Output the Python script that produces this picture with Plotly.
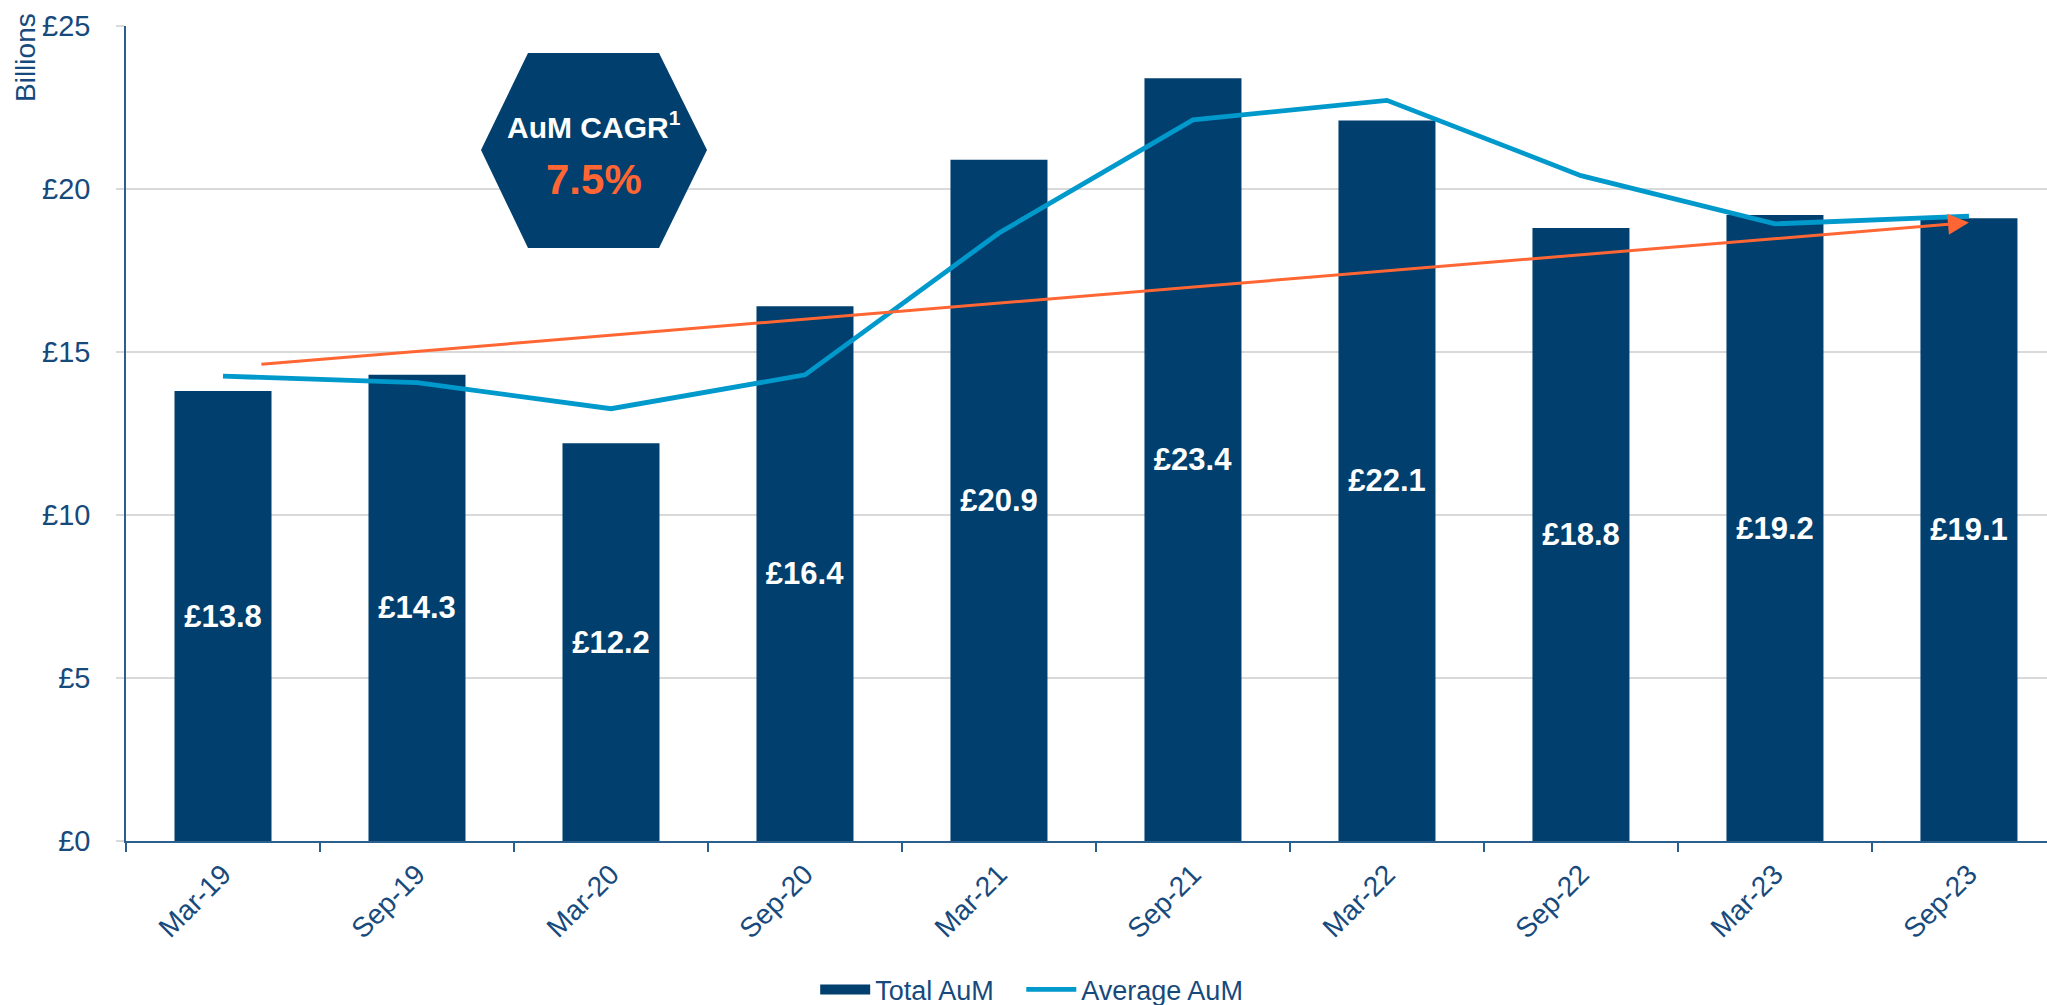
import plotly.graph_objects as go

# ---- data ----
periods = ["Mar-19", "Sep-19", "Mar-20", "Sep-20", "Mar-21",
           "Sep-21", "Mar-22", "Sep-22", "Mar-23", "Sep-23"]
total_aum = [13.8, 14.3, 12.2, 16.4, 20.9, 23.4, 22.1, 18.8, 19.2, 19.1]
average_aum = [14.26, 14.06, 13.26, 14.30, 18.65, 22.12, 22.72, 20.41, 18.93, 19.17]
trend_x = [0.19, 9.0]        # category-index positions of trend arrow
trend_y = [14.62, 18.97]     # trend values (£bn)
y_ticks = [0, 5, 10, 15, 20, 25]
y_tick_labels = ["£0", "£5", "£10", "£15", "£20", "£25"]
cagr_title = "<b>AuM CAGR<sup>1</sup></b>"
cagr_value = "<b>7.5%</b>"
legend_names = ["Total AuM", "Average AuM"]

# ---- styling ----
W, H = 2047, 1005
L, R, T, B = 126, 0, 26, 164
PW, PH = W - L - R, H - T - B
NAVY = "#003F6E"
CYAN = "#0099CC"
ORANGE = "#FF6633"
TXT = "#174A7C"
FONT = "Arial, Liberation Sans, sans-serif"
NBSP = "\u00a0"


def px(x):
    return (x - L) / PW


def py(y):
    return (H - B - y) / PH


fig = go.Figure()
fig.add_trace(go.Bar(
    x=periods, y=total_aum, name=legend_names[0], showlegend=False,
    marker=dict(color=NAVY, line=dict(width=0)),
    texttemplate="<b>£%{y:.1f}</b>", textposition="inside", insidetextanchor="middle",
    textangle=0,
    textfont=dict(color="white", size=31, family=FONT),
))
# legend entry for bars (wide swatch like the reference)
fig.add_trace(go.Scatter(
    x=[None], y=[None], name=legend_names[0] + NBSP * 3, mode="lines",
    line=dict(color=NAVY, width=14),
))
fig.add_trace(go.Scatter(
    x=periods, y=average_aum, name=legend_names[1], mode="lines",
    line=dict(color=CYAN, width=4.8),
))

# trend arrow
fig.add_annotation(
    x=trend_x[1], y=trend_y[1], ax=trend_x[0], ay=trend_y[0],
    xref="x", yref="y", axref="x", ayref="y",
    showarrow=True, arrowhead=2, arrowsize=1.4, arrowwidth=3,
    arrowcolor=ORANGE, text="",
)

# hexagon
hx = [481, 528, 659, 707, 659, 528]
hy = [150, 53, 53, 150, 248, 248]
path = "M " + " L ".join(f"{px(a):.5f},{py(b):.5f}" for a, b in zip(hx, hy)) + " Z"
fig.add_shape(type="path", path=path, xref="paper", yref="paper",
              fillcolor=NAVY, line=dict(width=0), layer="above")
fig.add_annotation(x=px(594), y=py(125), xref="paper", yref="paper",
                   text=cagr_title, showarrow=False,
                   xanchor="center", yanchor="middle",
                   font=dict(color="white", size=30, family=FONT))
fig.add_annotation(x=px(594), y=py(179), xref="paper", yref="paper",
                   text=cagr_value, showarrow=False,
                   xanchor="center", yanchor="middle",
                   font=dict(color=ORANGE, size=42, family=FONT))

# Billions label
fig.add_annotation(x=px(25), y=py(58), xref="paper", yref="paper",
                   text="Billions", textangle=-90, showarrow=False,
                   xanchor="center", yanchor="middle",
                   font=dict(color=TXT, size=28, family=FONT))

fig.update_layout(
    width=W, height=H,
    margin=dict(l=L, r=R, t=T, b=B, pad=0, autoexpand=False),
    paper_bgcolor="white", plot_bgcolor="white",
    bargap=0.5,
    font=dict(family=FONT, color=TXT),
    showlegend=True,
    legend=dict(orientation="h", xref="container", yref="container",
                x=0.504, xanchor="center", y=0.015, yanchor="middle",
                font=dict(size=27, color=TXT, family=FONT),
                itemwidth=50,
                traceorder="normal", bgcolor="rgba(0,0,0,0)"),
)
fig.update_xaxes(
    type="category", range=[-0.5, 9.5 - (2066 - 2047) / 194.5],
    showline=True, linecolor="#2B5F8E", linewidth=1.5,
    ticks="outside", tickson="boundaries", ticklen=9, tickcolor="#2B5F8E",
    tickwidth=1.5, tickangle=-45, ticklabelstandoff=4,
    tickfont=dict(size=28, color=TXT, family=FONT),
    showgrid=False,
)
fig.update_yaxes(
    range=[0, 25], tickvals=y_ticks, ticktext=y_tick_labels,
    showline=True, linecolor="#2B5F8E", linewidth=1.5,
    showgrid=True, gridcolor="#D9D9D9", gridwidth=1.5,
    ticks="outside", ticklen=8, tickcolor="#D9D9D9", tickwidth=1.5,
    ticklabelstandoff=20,
    tickfont=dict(size=29, color=TXT, family=FONT),
    zeroline=False,
)

fig.write_html("out.html",
               config={"displayModeBar": False},
               post_script="document.body.style.margin='0';"
                           "document.body.style.overflow='hidden';")
